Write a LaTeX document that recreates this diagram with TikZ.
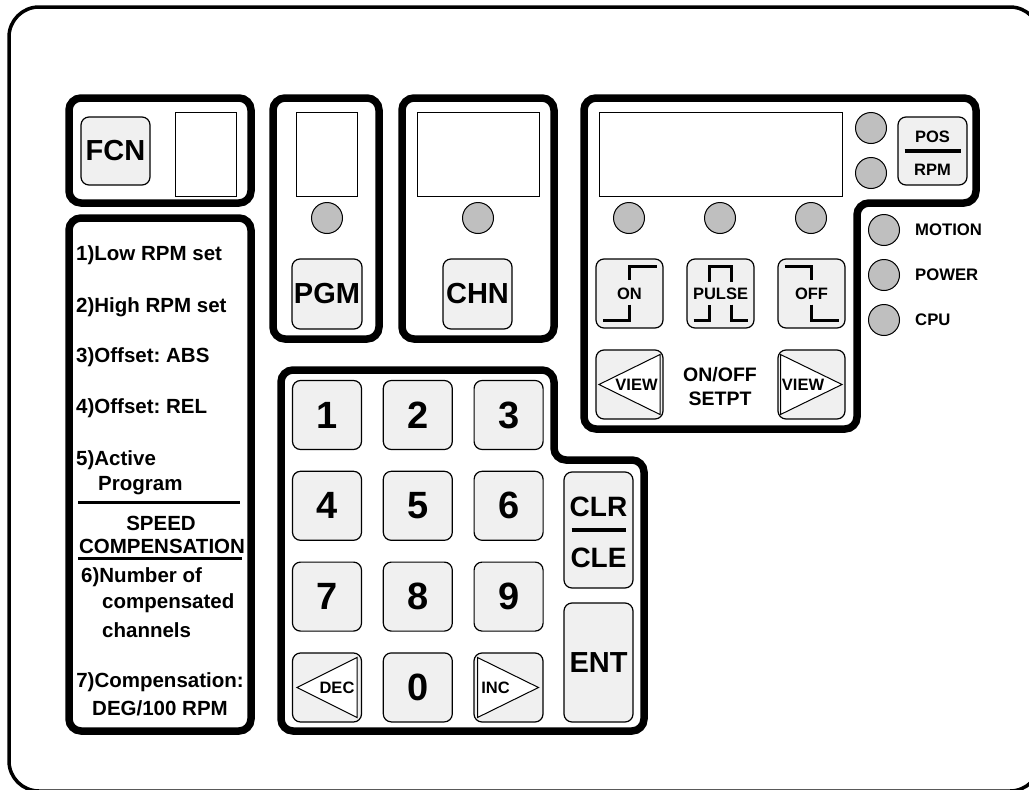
\documentclass[tikz,border=0pt]{standalone}
\usepackage{fontspec}
\setmainfont{Liberation Sans}
\frenchspacing
\definecolor{keyfill}{gray}{0.94}
\definecolor{ledfill}{gray}{0.75}
\tikzset{
  panel/.style={line width=7.5pt, rounded corners=12pt},
  keybox/.style={draw, line width=1.2pt, fill=keyfill, rounded corners=8pt,
    minimum width=69pt, minimum height=69pt, inner sep=0pt},
  display/.style={draw, line width=1pt, fill=white, inner sep=0pt},
  led/.style={circle, draw, line width=1pt, fill=ledfill, minimum size=31pt, inner sep=0pt},
  bigtext/.style={font=\fontsize{29}{30}\selectfont\bfseries},
  digittext/.style={font=\fontsize{38}{39}\selectfont\bfseries},
  listtext/.style={font=\fontsize{20.5}{24}\selectfont\bfseries, anchor=west, inner sep=0pt},
  smalltext/.style={font=\fontsize{16.5}{18}\selectfont\bfseries, inner sep=0pt},
  statustext/.style={font=\fontsize{16.7}{18}\selectfont\bfseries, anchor=west, inner sep=0pt},
  wave/.style={line width=3.5pt},
  arrowtri/.style={draw, line width=1pt, fill=white},
}
\begin{document}
\begin{tikzpicture}[x=1pt,y=-1pt]
  \useasboundingbox (0,0) rectangle (1029,790);
  \clip (0,0) rectangle (1029,790);

  % Outer housing
  \draw[line width=3.5pt, rounded corners=30pt] (9,7) rectangle (1040,791);

  % Panels
  \draw[panel] (69,98) rectangle (251,203);
  \draw[panel] (69,218) rectangle (251,731);
  \draw[panel] (273,98) rectangle (379,339);
  \draw[panel] (402,98) rectangle (554,339);
  \draw[panel] (584,98) -- (976,98) -- (976,203) -- (857,203) -- (857,429) -- (584,429) -- cycle;
  \draw[panel] (281,370) -- (554,370) -- (554,460) -- (644,460) -- (644,731) -- (281,731) -- cycle;

  % Displays
  \node[display, minimum width=61pt, minimum height=84pt] (fcndisp) at (205.5,154) {};
  \node[display, minimum width=61pt, minimum height=84pt] (pgmdisp) at (326.5,154) {};
  \node[display, minimum width=122pt, minimum height=84pt] (chndisp) at (478,154) {};
  \node[display, minimum width=243pt, minimum height=84pt] (maindisp) at (720.5,154) {};

  % Indicator lamps
  \foreach \name/\x/\y in {pgmled/327/218, chnled/478/218, ledA/629/218, ledB/720/218,
      ledC/811/218, posled/871/128, rpmled/871/173}
    \node[led] (\name) at (\x,\y) {};
  \foreach \name/\y/\lab in {motion/230/MOTION, power/275/POWER, cpu/320/CPU}{
    \node[led] (\name led) at (884,\y) {};
    \node[statustext] (\name) at (915,\y) {\lab};
  }

  % Function keys
  \node[keybox, bigtext, minimum height=68pt] (fcn) at (115.5,151) {FCN};
  \node[keybox, bigtext, minimum width=70pt, minimum height=70pt] (pgm) at (327,294) {PGM};
  \node[keybox, bigtext, minimum height=70pt] (chn) at (477.5,294) {CHN};

  % POS / RPM key
  \node[keybox, minimum height=68pt] (posrpm) at (932.5,151) {};
  \node[smalltext] (pos) at (932.5,137) {POS};
  \node[smalltext] (rpm) at (932.5,170) {RPM};
  \draw[line width=3.5pt] ([xshift=-28pt]posrpm.center) -- ([xshift=28pt]posrpm.center);

  % ON / PULSE / OFF keys
  \node[keybox, minimum width=67pt, smalltext] (on) at (629.5,293.5) {ON};
  \node[keybox, minimum width=67pt, smalltext] (pulse) at (720.5,293.5) {PULSE};
  \node[keybox, minimum width=67pt, smalltext] (off) at (811.5,293.5) {OFF};
  \begin{scope}[shift={(on.center)}]
    \draw[wave] (0,-14) -- (0,-27) -- (27,-27);
    \draw[wave] (0,11) -- (0,27) -- (-27,27);
  \end{scope}
  \begin{scope}[shift={(pulse.center)}]
    \draw[wave] (-11,-12) -- (-11,-27) -- (11,-27) -- (11,-12);
    \draw[wave] (-27,27) -- (-11,27) -- (-11,11);
    \draw[wave] (11,11) -- (11,27) -- (27,27);
  \end{scope}
  \begin{scope}[shift={(off.center)}]
    \draw[wave] (-27,-27) -- (0,-27) -- (0,-14);
    \draw[wave] (0,11) -- (0,27) -- (27,27);
  \end{scope}

  % VIEW keys
  \node[keybox, minimum width=67pt] (viewl) at (629.5,384.5) {};
  \node[keybox, minimum width=67pt] (viewr) at (811.5,384.5) {};
  \begin{scope}[shift={(viewl.center)}]
    \draw[arrowtri] (-30.5,0) -- (30.5,-30) -- (30.5,30) -- cycle;
    \node[smalltext] (viewltext) at (7,0) {VIEW};
  \end{scope}
  \begin{scope}[shift={(viewr.center)}]
    \draw[arrowtri] (30.5,0) -- (-31,-30) -- (-31,30) -- cycle;
    \node[smalltext] (viewrtext) at (-8.5,0) {VIEW};
  \end{scope}
  \node[align=center, font=\fontsize{19.5}{24}\selectfont\bfseries] (setpt) at (720,387) {ON/OFF\\SETPT};

  % Numeric keypad
  \foreach \lab/\col/\row in {1/0/0, 2/1/0, 3/2/0, 4/0/1, 5/1/1, 6/2/1, 7/0/2, 8/1/2, 9/2/2, 0/1/3}
    \node[keybox, digittext] (key\lab) at ({327+90.8*\col},{415+90.8*\row}) {\lab};
  \node[keybox] (dec) at (327,687.5) {};
  \node[keybox] (inc) at (508.5,687.5) {};
  \begin{scope}[shift={(dec.center)}]
    \draw[arrowtri] (-30,0) -- (30,-30) -- (30,30) -- cycle;
    \node[smalltext] (dectext) at (10,0) {DEC};
  \end{scope}
  \begin{scope}[shift={(inc.center)}]
    \draw[arrowtri] (30,0) -- (-31,-30) -- (-31,30) -- cycle;
    \node[smalltext] (inctext) at (-13,0) {INC};
  \end{scope}

  % CLR / CLE and ENT keys
  \node[keybox, minimum height=116pt] (clr) at (598.5,530) {};
  \node[bigtext] (clrtext) at (598.5,507) {\fontsize{28}{30}\selectfont CLR};
  \node[bigtext] (cletext) at (598.5,558) {\fontsize{28}{30}\selectfont CLE};
  \draw[line width=3.5pt] ([xshift=-27pt]clr.center) -- ([xshift=27pt]clr.center);
  \node[keybox, bigtext, minimum height=119pt] (ent) at (598.5,662.5) {ENT};

  % Function list
  \node[listtext] (item1) at (76,255) {1)Low RPM set};
  \node[listtext] (item2) at (76,307) {2)High RPM set};
  \node[listtext] (item3) at (76,357) {3)Offset: ABS};
  \node[listtext] (item4) at (76,408) {4)Offset: REL};
  \node[listtext] (item5) at (76,460) {5)Active};
  \node[listtext] (item5b) at (98,486) {Program};
  \draw[line width=3pt] (78,502) -- (240,502);
  \node[listtext, anchor=center] (speed) at (161,523) {SPEED};
  \node[listtext, anchor=center] (comp) at (162,546) {COMPENSATION};
  \draw[line width=3pt] (78,558) -- (242,558);
  \node[listtext] (item6) at (81,577) {6)Number of};
  \node[listtext] (item6b) at (102,603) {compensated};
  \node[listtext] (item6c) at (102,630) {channels};
  \node[listtext, anchor=center] (item7) at (160,682) {7)Compensation:};
  \node[listtext, anchor=center] (item7b) at (160,708) {DEG/100 RPM};
\end{tikzpicture}
\end{document}
